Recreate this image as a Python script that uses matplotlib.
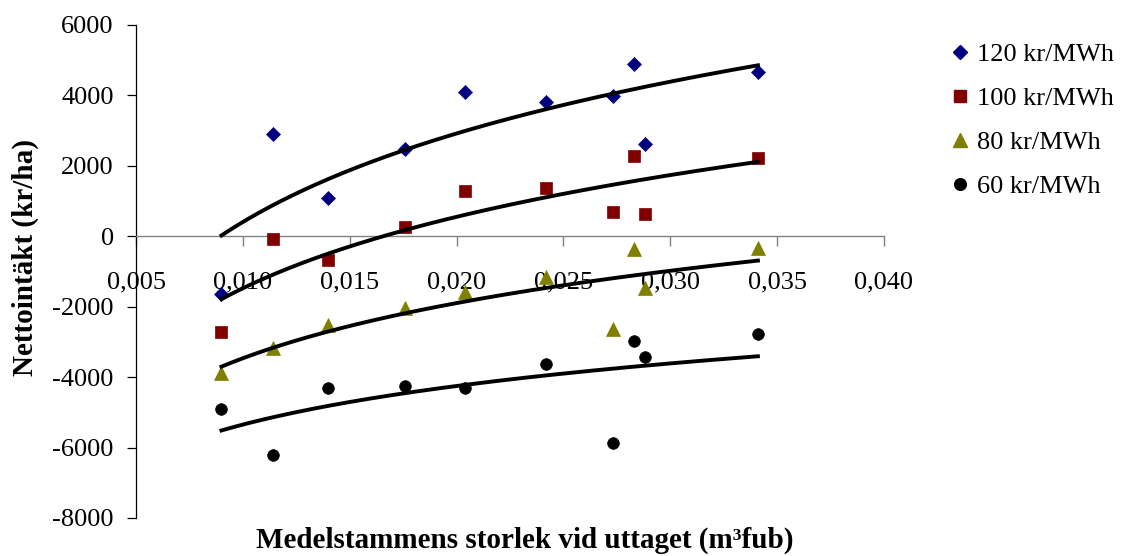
import numpy as np
import matplotlib
matplotlib.use("Agg")
import matplotlib.pyplot as plt
from matplotlib.lines import Line2D
from matplotlib.ticker import FixedLocator, FuncFormatter

# Medelstam (m3fub) per bestånd, samma för alla prisnivåer
stem_size = [0.0090, 0.0114, 0.0140, 0.0176, 0.0204, 0.0242, 0.0273, 0.0283, 0.0288, 0.0341]

# Nettointäkt (kr/ha) per prisnivå
net_120 = [-1650, 2900, 1085, 2480, 4085, 3820, 3990, 4905, 2630, 4670]
net_100 = [-2710, -75, -680, 265, 1275, 1385, 680, 2290, 630, 2235]
net_80 = [-3885, -3180, -2520, -2045, -1575, -1150, -2630, -375, -1460, -320]
net_60 = [-4905, -6200, -4310, -4265, -4310, -3625, -5870, -2970, -3415, -2765]

series_labels = ["120 kr/MWh", "100 kr/MWh", "80 kr/MWh", "60 kr/MWh"]
x_ticks = [0.005, 0.010, 0.015, 0.020, 0.025, 0.030, 0.035, 0.040]
y_ticks = [-8000, -6000, -4000, -2000, 0, 2000, 4000, 6000]

# marker, colour, size (pt)
SERIES_STYLES = [
    ("D", "#000080", 7.2),
    ("s", "#800000", 8.3),
    ("^", "#808000", 10.0),
    ("o", "#000000", 8.4),
]

FONT_SIZE = 19
LABEL_SIZE = 21
AXIS_GREY = "#808080"


def log_trend(x, y):
    # Excel-style logarithmic trendline: y = a*ln(x) + b
    a, b = np.polyfit(np.log(x), y, 1)
    xs = np.linspace(min(x), max(x), 200)
    return xs, a * np.log(xs) + b


def main():
    plt.rcParams["font.family"] = ["Liberation Serif", "DejaVu Serif"]
    plt.rcParams["axes.unicode_minus"] = False

    fig = plt.figure(figsize=(11.24, 5.56), dpi=100)
    ax = fig.add_axes([136 / 1124, 38 / 556, 748 / 1124, 493 / 556])

    x = np.array(stem_size)
    all_series = [net_120, net_100, net_80, net_60]

    handles = []
    for values, (marker, colour, size), label in zip(all_series, SERIES_STYLES, series_labels):
        ax.plot(x, values, linestyle="none", marker=marker, markersize=size,
                color=colour, markeredgecolor=colour, markeredgewidth=0.5, zorder=3)
        handles.append(Line2D([], [], linestyle="none", marker=marker, markersize=size,
                              color=colour, markeredgecolor=colour, label=label))

    for values in all_series:
        xs, ys = log_trend(x, np.array(values))
        ax.plot(xs, ys, color="black", linewidth=2.8, zorder=4)

    ax.set_xlim(0.005, 0.040)
    ax.set_ylim(-8000, 6000)

    ax.spines["top"].set_visible(False)
    ax.spines["right"].set_visible(False)
    ax.spines["left"].set_color("black")
    ax.spines["left"].set_linewidth(0.9)
    ax.spines["bottom"].set_position(("data", 0))
    ax.spines["bottom"].set_color(AXIS_GREY)
    ax.spines["bottom"].set_linewidth(1.0)

    ax.xaxis.set_major_locator(FixedLocator(x_ticks))
    ax.yaxis.set_major_locator(FixedLocator(y_ticks))
    ax.xaxis.set_major_formatter(FuncFormatter(lambda v, _: f"{v:.3f}".replace(".", ",")))
    ax.yaxis.set_major_formatter(FuncFormatter(lambda v, _: f"{v:.0f}"))

    ax.tick_params(axis="x", direction="out", length=7, width=1.0, color=AXIS_GREY,
                   pad=18, labelsize=FONT_SIZE)
    ax.tick_params(axis="y", direction="out", length=6.5, width=0.9, color="black",
                   pad=9.5, labelsize=FONT_SIZE)

    fig.text(25 / 1124, 1 - 258 / 556, "Nettointäkt (kr/ha)", rotation=90,
             ha="center", va="center", fontsize=LABEL_SIZE, fontweight="bold")
    fig.text(525 / 1124, 1 - 540 / 556, "Medelstammens storlek vid uttaget (m³fub)",
             ha="center", va="center", fontsize=LABEL_SIZE, fontweight="bold")

    ax.legend(handles=handles, loc="upper left", bbox_to_anchor=(952 / 1124, 1 - 43 / 556),
              bbox_transform=fig.transFigure, frameon=False, fontsize=FONT_SIZE,
              handlelength=0.6, handletextpad=0.35, labelspacing=0.77,
              borderpad=0, borderaxespad=0)

    fig.savefig("out.png", dpi=100)
    plt.close(fig)


if __name__ == "__main__":
    main()
